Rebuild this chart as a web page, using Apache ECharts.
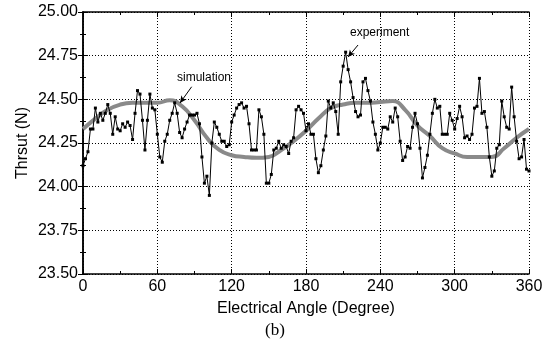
<!DOCTYPE html>
<html>
<head>
<meta charset="utf-8">
<script src="https://cdn.jsdelivr.net/npm/echarts@6/dist/echarts.min.js"></script>
<style>
html,body{margin:0;padding:0;background:#fff;}
#main{width:559px;height:345px;}
</style>
</head>
<body>
<div id="main"></div>
<script>
// thrust vs electrical angle, (b)
var yTicks = [23.50, 23.75, 24.00, 24.25, 24.50, 24.75, 25.00];
var xTicks = [0, 60, 120, 180, 240, 300, 360];

// simulation, every 10 degrees
var simAngle = [0,10,20,30,40,50,60,70,80,90,100,110,120,130,140,150,160,170,180,
	190,200,210,220,230,240,250,260,270,280,290,300,310,320,330,340,350,360];
var simThrust = [24.33,24.39,24.44,24.47,24.48,24.48,24.48,24.495,24.46,24.38,24.28,24.21,24.18,24.17,24.165,24.17,24.21,24.26,24.32,
	24.39,24.45,24.47,24.48,24.48,24.485,24.49,24.44,24.35,24.29,24.22,24.19,24.17,24.17,24.17,24.22,24.28,24.33];

// experiment, every 2 degrees from 0
var expStep = 2;
var expThrust = [24.12,24.16,24.20,24.33,24.33,24.45,24.37,24.42,24.38,24.42,24.47,24.42,24.30,24.40,24.33,24.32,24.36,24.34,24.37,24.35,
	24.27,24.42,24.55,24.53,24.38,24.21,24.38,24.53,24.45,24.44,24.30,24.17,24.14,24.26,24.30,24.38,24.42,24.48,24.42,24.31,
	24.28,24.33,24.37,24.41,24.41,24.41,24.42,24.36,24.17,24.02,24.06,23.95,24.25,24.37,24.34,24.30,24.26,24.26,24.23,24.24,
	24.37,24.41,24.45,24.47,24.48,24.45,24.46,24.36,24.21,24.21,24.21,24.44,24.40,24.30,24.02,24.02,24.07,24.21,24.22,24.26,
	24.22,24.24,24.23,24.19,24.26,24.28,24.44,24.46,24.44,24.42,24.32,24.36,24.30,24.30,24.16,24.08,24.12,24.21,24.29,24.49,
	24.45,24.48,24.43,24.30,24.60,24.69,24.77,24.67,24.60,24.51,24.43,24.40,24.41,24.60,24.62,24.55,24.49,24.37,24.30,24.21,
	24.25,24.34,24.34,24.33,24.40,24.37,24.45,24.40,24.26,24.15,24.17,24.23,24.22,24.34,24.42,24.36,24.22,24.05,24.11,24.18,
	24.30,24.42,24.50,24.45,24.46,24.30,24.30,24.30,24.42,24.38,24.33,24.39,24.46,24.40,24.28,24.29,24.27,24.30,24.45,24.46,
	24.62,24.42,24.43,24.34,24.17,24.06,24.09,24.22,24.24,24.49,24.40,24.34,24.33,24.57,24.40,24.26,24.16,24.17,24.27,24.10,
	24.09];

var simData = simAngle.map(function(a, i){ return [a, simThrust[i]]; });
var expData = expThrust.map(function(v, i){ return [i*expStep, v]; });

var font = 'Arial, "Liberation Sans", sans-serif';
var myChart = echarts.init(document.getElementById('main'));
var gridLine = {show: true, lineStyle: {color: '#000', type: [1, 2], width: 1}};

myChart.setOption({
	animation: false,
	grid: {left: 83, right: 30, top: 12, bottom: 71},
	xAxis: [
		{
			type: 'value', min: 0, max: 360, interval: 60,
			name: 'Electrical Angle (Degree)', nameLocation: 'middle', nameGap: 27,
			nameMoveOverlap: false,
			nameTextStyle: {fontFamily: font, fontSize: 16, color: '#000'},
			axisLine: {lineStyle: {color: '#000', width: 1.5}},
			axisTick: {inside: true, length: 5, lineStyle: {color: '#000'}},
			minorTick: {show: true, splitNumber: 2, length: 3, lineStyle: {color: '#000'}},
			axisLabel: {fontFamily: font, fontSize: 16, color: '#000', margin: 5},
			splitLine: gridLine
		},
		{
			type: 'value', min: 0, max: 360, interval: 60, position: 'top',
			axisLine: {lineStyle: {color: '#000', width: 1.5}},
			axisTick: {inside: true, length: 5, lineStyle: {color: '#000'}},
			minorTick: {show: true, splitNumber: 2, length: 3, lineStyle: {color: '#000'}},
			axisLabel: {show: false},
			splitLine: {show: false}
		}
	],
	yAxis: [
		{
			type: 'value', min: 23.5, max: 25, interval: 0.25,
			name: 'Thrsut (N)', nameLocation: 'middle', nameGap: 52,
			nameMoveOverlap: false,
			nameTextStyle: {fontFamily: font, fontSize: 16, color: '#000'},
			axisLine: {show: true, lineStyle: {color: '#000', width: 1.5}},
			axisTick: {show: true, inside: true, length: 5, lineStyle: {color: '#000'}},
			minorTick: {show: true, splitNumber: 2, length: 3, lineStyle: {color: '#000'}},
			axisLabel: {fontFamily: font, fontSize: 16, color: '#000', margin: 5,
				formatter: function(v){ return v.toFixed(2); }},
			splitLine: gridLine
		},
		{
			type: 'value', min: 23.5, max: 25, interval: 0.25, position: 'right',
			axisLine: {show: true, lineStyle: {color: '#000', width: 1.5}},
			axisTick: {show: true, inside: true, length: 5, lineStyle: {color: '#000'}},
			minorTick: {show: true, splitNumber: 2, length: 3, lineStyle: {color: '#000'}},
			axisLabel: {show: false},
			splitLine: {show: false}
		}
	],
	series: [
		{
			name: 'simulation',
			type: 'line',
			data: simData,
			smooth: 0.5,
			showSymbol: false,
			lineStyle: {color: '#8a8a8a', width: 4},
			z: 2
		},
		{
			name: 'experiment',
			type: 'line',
			data: expData,
			symbol: 'rect',
			symbolSize: 3,
			itemStyle: {color: '#000'},
			lineStyle: {color: '#000', width: 1},
			z: 3,
			markLine: {
				silent: true,
				symbol: ['none', 'arrow'],
				symbolSize: [5, 7],
				label: {show: false},
				lineStyle: {color: '#000', width: 1, type: 'solid'},
				data: [
					[{coord: [87.7, 24.572]}, {coord: [78.3, 24.479]}],
					[{coord: [222, 24.811]}, {coord: [213.9, 24.742]}]
				]
			}
		}
	],
	graphic: [
		{type: 'text', left: 177, top: 72, style: {text: 'simulation', font: '12px ' + font, fill: '#000'}},
		{type: 'text', left: 350, top: 27, style: {text: 'experiment', font: '12px ' + font, fill: '#000'}},
		{type: 'text', left: 265, top: 322, style: {text: '(b)', font: '17px "Liberation Serif", "Times New Roman", serif', fill: '#000'}}
	]
});
</script>
</body>
</html>
